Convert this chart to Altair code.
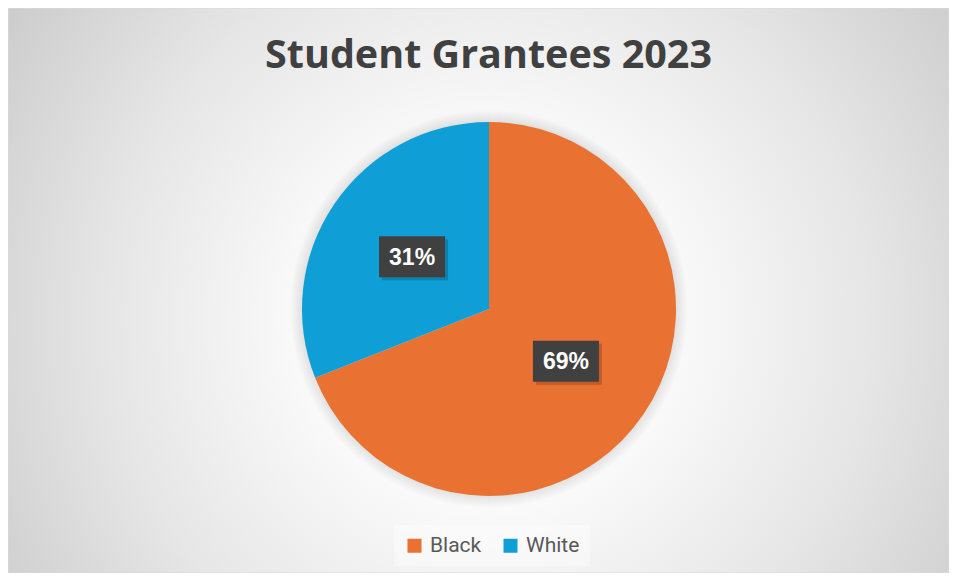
import altair as alt
import pandas as pd

# ---- data ----
categories = ["Black", "White"]
values = [69, 31]
colors = ["#E97132", "#0F9ED5"]
title_text = "Student Grantees 2023"

# ---- layout (style) ----
W, H = 941, 565
CX, CY = 481, 301
R = 187
LR = 93
BW, BH = 66, 41

df = pd.DataFrame({"category": categories, "value": values,
                   "order": list(range(len(categories)))})
one = pd.DataFrame({"k": [0]})

bg = alt.Chart(one).mark_rect(
    fill={
        "gradient": "radial",
        "x1": CX / W, "y1": CY / H, "r1": 0,
        "x2": CX / W, "y2": CY / H, "r2": 0.62,
        "stops": [
            {"offset": 0, "color": "#ffffff"},
            {"offset": 0.3, "color": "#fbfbfb"},
            {"offset": 0.65, "color": "#e6e6e6"},
            {"offset": 1, "color": "#cbcbcb"},
        ],
    },
    stroke="#d9d9d9", strokeWidth=1,
).encode(x=alt.value(0), x2=alt.value(W), y=alt.value(0), y2=alt.value(H))

shadows = []
for k in range(1, 13):
    shadows.append(
        alt.Chart(one).mark_arc(radius=R + k, color="black", opacity=0.009).encode(
            theta=alt.value(0), theta2=alt.value(6.2832),
            x=alt.value(CX), y=alt.value(CY),
        )
    )

pie = alt.Chart(df).mark_arc(radius=R).encode(
    theta=alt.Theta("value:Q", stack=True),
    order=alt.Order("order:Q"),
    color=alt.Color(
        "category:N",
        scale=alt.Scale(domain=categories, range=colors),
        legend=alt.Legend(
            title=None, orient="none", direction="horizontal",
            legendX=386, legendY=517,
            symbolType="square", symbolSize=196, symbolStrokeWidth=0,
            labelFont="Roboto", labelFontSize=21, labelColor="#595959",
            labelOffset=5, columnPadding=18, padding=10,
            fillColor="rgba(255,255,255,0.35)",
        ),
    ),
    x=alt.value(CX), y=alt.value(CY),
)

lab = alt.Chart(df).transform_joinaggregate(
    total="sum(value)"
).transform_window(
    cum="sum(value)", sort=[alt.SortField("order")], frame=[None, 0]
).transform_calculate(
    mid="(datum.cum - datum.value/2) / datum.total",
).transform_calculate(
    lx=f"{CX} + {LR} * sin(2 * PI * datum.mid)",
    ly=f"{CY} - {LR} * cos(2 * PI * datum.mid)",
    pct="format(datum.value / datum.total, '.0%')",
).transform_calculate(
    bx1=f"datum.lx - {BW/2}", bx2=f"datum.lx + {BW/2}",
    by1=f"datum.ly - {BH/2}", by2=f"datum.ly + {BH/2}",
    sx1=f"datum.lx - {BW/2} + 3", sx2=f"datum.lx + {BW/2} + 3",
    sy1=f"datum.ly - {BH/2} + 3", sy2=f"datum.ly + {BH/2} + 3",
)

box_shadow = lab.mark_rect(color="black", opacity=0.18).encode(
    x=alt.X("sx1:Q", scale=None, axis=None), x2="sx2:Q",
    y=alt.Y("sy1:Q", scale=None, axis=None), y2="sy2:Q",
)
box = lab.mark_rect(color="#404040").encode(
    x=alt.X("bx1:Q", scale=None, axis=None), x2="bx2:Q",
    y=alt.Y("by1:Q", scale=None, axis=None), y2="by2:Q",
)
txt = lab.mark_text(
    font="Liberation Sans", fontSize=23, fontWeight="bold",
    color="white", baseline="middle", align="center", dy=1,
).encode(
    x=alt.X("lx:Q", scale=None, axis=None),
    y=alt.Y("ly:Q", scale=None, axis=None),
    text="pct:N",
)

chart = alt.layer(bg, *shadows, pie, box_shadow, box, txt).properties(
    width=W, height=H,
    autosize=alt.AutoSizeParams(type="none"),
    padding=0,
    title=alt.TitleParams(
        title_text, font="Open Sans", fontSize=39.5, fontWeight="bold",
        color="#404040", anchor="middle", offset=0, dy=100, dx=10,
        baseline="alphabetic",
    ),
).resolve_scale(color="independent").configure_view(stroke=None)

chart.save("out.html", embed_options={"renderer": "svg", "actions": False})
